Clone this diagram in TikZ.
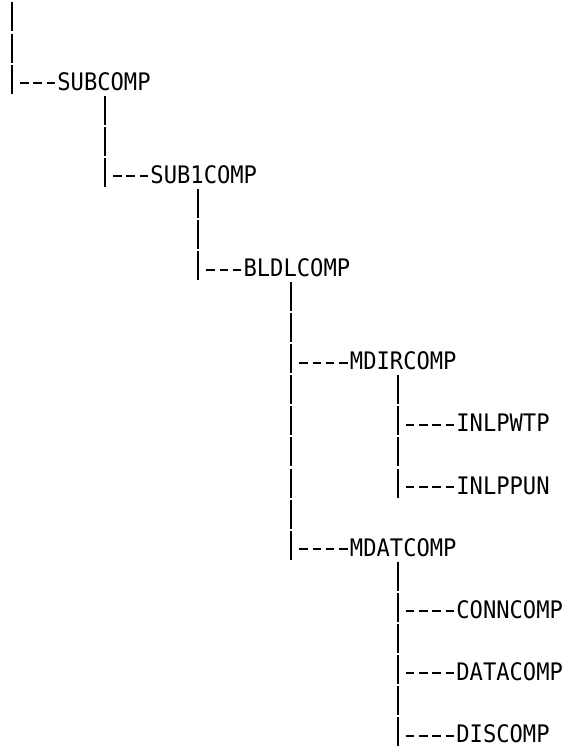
\documentclass[tikz,border=0pt]{standalone}
\usepackage{fontspec}
\newfontfamily\treefont[FakeStretch=0.917]{DejaVu Sans Mono}
\begin{document}
\begin{tikzpicture}[x=0.75pt, y=-0.75pt,
  every node/.style={inner sep=0pt, anchor=base west, font=\treefont\fontsize{18.1pt}{20pt}\selectfont},
  bar/.style={line width=1.5pt, dash pattern=on 21.75pt off 1.5525pt},
  tick/.style={line width=1.5pt, dash pattern=on 6.375pt off 3.6pt}]
\useasboundingbox (0,0) rectangle (569,748);
% bars
\coordinate (b0) at (12,2.5);     \coordinate (b0e) at (12,93.64);
\coordinate (b1) at (105.1,95.71);  \coordinate (b1e) at (105.1,186.85);
\coordinate (b2) at (198.2,188.92); \coordinate (b2e) at (198.2,280.06);
\coordinate (b3) at (291.3,282.13); \coordinate (b3e) at (291.3,559.69);
\coordinate (b4) at (397.7,375.34); \coordinate (b4e) at (397.7,497.55);
\coordinate (b5) at (397.7,561.76); \coordinate (b5e) at (397.7,746.11);
% labels
\node (subcomp) at (57.1,90.14) {SUBCOMP};
\node (sub1comp) at (150.2,183.35) {SUB1COMP};
\node (bldlcomp) at (243.3,276.56) {BLDLCOMP};
\node (mdircomp) at (349.7,369.77) {MDIRCOMP};
\node (inlpwtp) at (456.1,431.91) {INLPWTP};
\node (inlppun) at (456.1,494.05) {INLPPUN};
\node (mdatcomp) at (349.7,556.19) {MDATCOMP};
\node (conncomp) at (456.1,618.33) {CONNCOMP};
\node (datacomp) at (456.1,680.47) {DATACOMP};
\node (discomp) at (456.1,742.61) {DISCOMP};
% tick starts
\coordinate (h-sub) at (20,83.14);
\coordinate (h-sub1) at (113.1,176.35);
\coordinate (h-bldl) at (206.2,269.56);
\coordinate (h-mdir) at (299.3,362.77);
\coordinate (h-wtp) at (405.7,424.91);
\coordinate (h-pun) at (405.7,487.05);
\coordinate (h-mdat) at (299.3,549.19);
\coordinate (h-conn) at (405.7,611.33);
\coordinate (h-data) at (405.7,673.47);
\coordinate (h-dis) at (405.7,735.61);
\foreach \a in {0,...,5} \draw[bar] (b\a) -- (b\a e);
\foreach \h/\n in {sub/subcomp, sub1/sub1comp, bldl/bldlcomp, mdir/mdircomp, wtp/inlpwtp,
  pun/inlppun, mdat/mdatcomp, conn/conncomp, data/datacomp, dis/discomp}
  \draw[tick] (h-\h) -- (h-\h -| \n.west);
\end{tikzpicture}
\end{document}
